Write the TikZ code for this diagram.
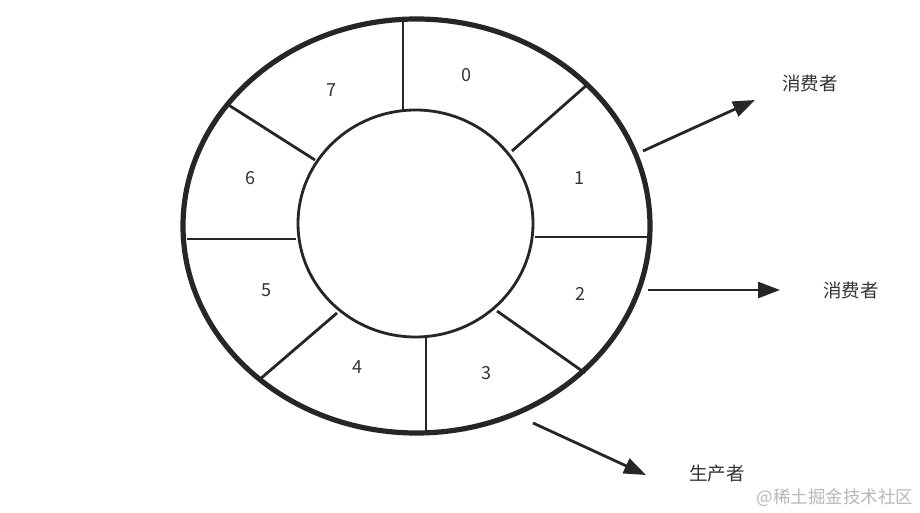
\documentclass[tikz,border=0pt]{standalone}
\usepackage{fontspec}
\setmainfont{Noto Sans CJK SC}
\newfontfamily\cjk{Noto Sans CJK SC}
\usetikzlibrary{arrows.meta}
\definecolor{ink}{HTML}{262626}
\definecolor{txt}{HTML}{333333}
\definecolor{wm}{HTML}{B8B8B8}
\tikzset{
  outer/.style={draw=ink, line width=5.2pt},
  inner/.style={draw=ink, line width=2.8pt},
  divider/.style={draw=ink, line width=2.8pt},
  slotlabel/.style={text=txt, font=\fontsize{18}{21}\selectfont, inner sep=0pt},
  rolelabel/.style={text=txt, font=\cjk\fontsize{18.5}{22}\selectfont, inner sep=0pt},
  flow/.style={draw=ink, line width=2.8pt, -{Triangle[length=22pt,width=16pt]}},
}
\begin{document}
\begin{tikzpicture}[x=1pt,y=-1pt]
\useasboundingbox (0,0) rectangle (920,513);
\fill[white] (0,0) rectangle (920,513);
% rings
\draw[outer] (416.5,226) ellipse [x radius=233.5, y radius=207];
\draw[inner] (415.5,223.5) ellipse [x radius=117.5, y radius=113.5];
% dividers
\coordinate (d0a) at (403,20);  \coordinate (d0b) at (403,110);
\coordinate (d1a) at (588,84);  \coordinate (d1b) at (512,151);
\coordinate (d2a) at (647,237); \coordinate (d2b) at (535,237);
\coordinate (d3a) at (585,373); \coordinate (d3b) at (497,311);
\coordinate (d4a) at (426,432); \coordinate (d4b) at (426,337);
\coordinate (d5a) at (259,380); \coordinate (d5b) at (337,313);
\coordinate (d6a) at (187,239); \coordinate (d6b) at (296,239);
\coordinate (d7a) at (227,104); \coordinate (d7b) at (315,160);
\foreach \i in {0,...,7} {\draw[divider] (d\i a) -- (d\i b);}
% slot labels
\node[slotlabel] (s0) at (466,75) {0};
\node[slotlabel] (s1) at (579,178) {1};
\node[slotlabel] (s2) at (580,294) {2};
\node[slotlabel] (s3) at (486,373) {3};
\node[slotlabel] (s4) at (357,367) {4};
\node[slotlabel] (s5) at (266,290) {5};
\node[slotlabel] (s6) at (250,178) {6};
\node[slotlabel] (s7) at (331,90) {7};
% roles
\node[rolelabel] (c1) at (810,83) {消费者};
\node[rolelabel] (c2) at (851,290) {消费者};
\node[rolelabel] (p) at (717,474) {生产者};
% arrows
\coordinate (a1s) at (643,151); \coordinate (a1e) at (755,100);
\coordinate (a2s) at (648,290); \coordinate (a2e) at (780,290);
\coordinate (a3s) at (533,423); \coordinate (a3e) at (646,475);
\draw[flow] (a1s) -- (a1e);
\draw[flow] (a2s) -- (a2e);
\draw[flow] (a3s) -- (a3e);
% watermark
\node[text=wm, font=\cjk\fontsize{17.5}{20}\selectfont, inner sep=0pt] (wmk) at (835,498) {@稀土掘金技术社区};
\end{tikzpicture}
\end{document}
